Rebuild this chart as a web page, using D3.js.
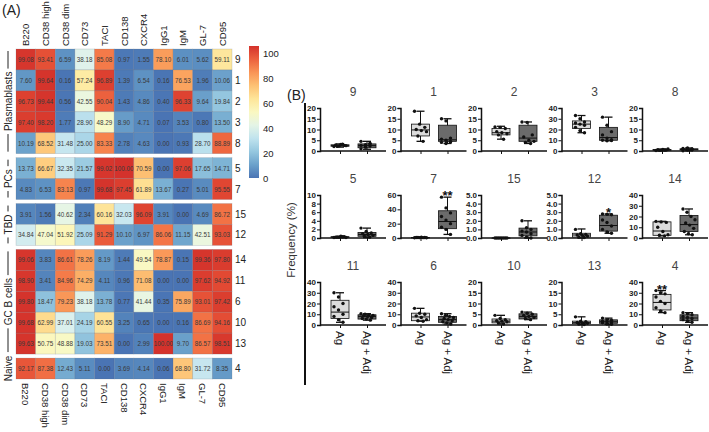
<!DOCTYPE html>
<html>
<head>
<meta charset="utf-8">
<script src="https://cdn.jsdelivr.net/npm/d3@7"></script>
<style>
    body { margin: 0; background: #fff; }
    svg { display: block; font-family: 'Liberation Sans', Arial, sans-serif; }
</style>
</head>
<body>
<div id="chart"></div>
<script>
// ---- panel A data ----
const markers = ['B220', 'CD38 high', 'CD38 dim', 'CD73', 'TACI', 'CD138', 'CXCR4', 'IgG1', 'IgM', 'GL-7', 'CD95'];
const clusters = ['9', '1', '2', '3', '8', '5', '7', '15', '12', '14', '11', '6', '10', '13', '4'];
const groupNames = ['Plasmablasts', 'PCs', 'TBD', 'GC B cells', 'Naive'];
const groupSizes = [5, 2, 2, 5, 1];
const heatValues = [
    [99.08, 93.41, 6.59, 38.18, 85.08, 0.97, 1.55, 78.10, 6.01, 5.62, 59.11],
    [7.60, 99.64, 0.16, 57.24, 96.89, 1.39, 6.54, 0.16, 76.53, 1.96, 10.06],
    [96.73, 99.44, 0.56, 42.55, 90.04, 1.43, 4.86, 0.40, 96.33, 9.64, 19.84],
    [97.40, 98.20, 1.77, 28.90, 48.29, 8.90, 4.71, 0.07, 3.53, 0.80, 13.50],
    [10.19, 68.52, 31.48, 25.00, 83.33, 2.78, 4.63, 0.00, 0.93, 28.70, 88.89],
    [13.73, 66.67, 32.35, 21.57, 99.02, 100.00, 70.59, 0.00, 97.06, 17.65, 14.71],
    [4.83, 6.53, 83.13, 0.97, 99.68, 97.45, 61.89, 13.67, 0.27, 5.01, 95.55],
    [3.91, 1.56, 40.62, 2.34, 60.16, 32.03, 96.09, 3.91, 0.00, 4.69, 86.72],
    [34.84, 47.04, 51.92, 25.09, 91.29, 10.10, 6.97, 86.06, 11.15, 42.51, 93.03],
    [99.06, 3.83, 86.61, 78.26, 8.19, 1.44, 49.54, 78.87, 0.15, 99.36, 97.80],
    [98.90, 3.41, 84.96, 74.29, 4.11, 0.96, 71.08, 0.00, 0.00, 97.62, 94.92],
    [99.80, 18.47, 79.23, 38.18, 13.78, 0.77, 41.44, 0.35, 75.89, 93.01, 97.42],
    [99.68, 62.99, 37.01, 24.19, 60.55, 3.25, 0.65, 0.00, 0.16, 86.69, 94.16],
    [99.63, 50.75, 48.88, 19.03, 73.51, 0.00, 2.99, 100.00, 9.70, 86.57, 98.51],
    [92.17, 87.38, 12.43, 5.11, 0.00, 3.69, 4.14, 0.06, 68.80, 31.72, 8.35]
];
const legendTicks = [0, 20, 40, 60, 80, 100];

// ---- panel B data ----
const panelClusters = ['9', '1', '2', '3', '8', '5', '7', '15', '12', '14', '11', '6', '10', '13', '4'];
const panelMax = [20, 20, 20, 40, 20, 10, 60, 5, 5, 40, 40, 40, 20, 20, 40];
const panelStep = [5, 5, 5, 10, 5, 2, 20, 1, 1, 10, 10, 10, 5, 5, 10];
const conditions = ['Ag', 'Ag + Adj'];
// [min, q1, median, q3, max]
const boxAg = [
    [1.8, 2.2, 2.5, 2.9, 3.3], [4.5, 7, 9.8, 12.5, 18.5], [5.5, 7.5, 8.5, 10.5, 11.5], [17, 21, 25, 28, 33], [0.1, 0.3, 0.5, 0.7, 0.9],
    [0.05, 0.1, 0.2, 0.3, 0.4], [0.2, 0.4, 0.6, 0.8, 1.0], [0, 0, 0, 0, 0], [0, 0.1, 0.35, 0.55, 1.05], [2, 2.5, 6.5, 15, 15.5],
    [2.5, 6, 12, 23, 30], [3.5, 4, 7.5, 11, 15.5], [0.5, 1, 1.8, 2.8, 4.5], [0.2, 0.6, 1.1, 1.8, 3.8], [11.5, 14, 21, 28.5, 32]
];
const boxAdj = [
    [0.8, 1.5, 2.5, 3.3, 4.5], [3.5, 4.5, 5.2, 12, 15], [3.5, 4.5, 6, 12, 13.5], [9.5, 10, 12.5, 22, 31.5], [0.1, 0.5, 0.8, 1.0, 1.4],
    [0.1, 0.4, 0.8, 1.3, 2.3], [5, 13, 23, 38, 57], [0, 0.25, 0.7, 1.15, 2.0], [0.55, 0.8, 1.45, 2.65, 2.8], [3, 6, 12.5, 21, 27],
    [4.5, 5.5, 8, 9.5, 10.5], [1, 2.5, 5, 8, 10.5], [2.5, 2.8, 4, 5.2, 6], [0.3, 0.8, 1.5, 2.4, 3.2], [2.5, 4, 6.5, 9.5, 11.5]
];
const dotsAg = [
    [2.1, 2.4, 2.6, 2.8, 3.0, 2.5, 2.2, 3.2],
    [18.5, 12.5, 11, 10, 9.5, 9, 7, 4.5],
    [11.2, 11, 10.5, 9, 8.5, 8, 7.5, 5.5],
    [33, 30, 27, 26, 25, 24, 22, 19, 17],
    [0.2, 0.4, 0.5, 0.6, 0.7, 0.9, 0.3, 0.5],
    [0.1, 0.2, 0.3, 0.2, 0.4, 0.1, 0.2, 0.3],
    [0.3, 0.5, 0.6, 0.8, 1.0, 0.4, 0.7, 0.5],
    [0, 0, 0, 0, 0, 0, 0, 0],
    [1.0, 0.5, 0.4, 0.35, 0.3, 0.2, 0.1, 0.05],
    [15.5, 15, 14.5, 10, 6, 3, 2.5, 2],
    [30, 26, 20, 17, 14, 10, 8, 5, 2.5],
    [15.5, 11, 10, 8.5, 7, 5, 4, 3.5],
    [4.5, 3, 2.5, 2, 1.8, 1.5, 1, 0.5],
    [3.8, 1.8, 1.5, 1.2, 1.0, 0.8, 0.5, 0.2],
    [32, 30, 29, 26, 22, 20, 16, 13, 11.5]
];
const dotsAdj = [
    [1.0, 1.8, 2.3, 2.6, 2.9, 3.2, 4.5, 2.0, 3.6],
    [15, 14, 6, 5.5, 5, 4.5, 4, 3.5, 4.2],
    [13.5, 13.3, 7.5, 6.5, 5, 4.5, 4, 3.5],
    [31.5, 24, 18, 15, 12, 10.5, 10, 9.5, 9.8],
    [0.1, 0.5, 0.7, 0.8, 0.9, 1.0, 1.2, 1.4, 0.6],
    [2.3, 1.5, 1.2, 1.0, 0.8, 0.6, 0.4, 0.2],
    [57, 42, 35, 30, 25, 20, 15, 12, 5],
    [2.0, 1.2, 1.0, 0.8, 0.7, 0.5, 0.3, 0.1, 0.0],
    [2.8, 2.75, 2.7, 2.1, 1.8, 1.4, 1.0, 0.7, 0.55],
    [27, 24, 20, 17, 14, 12, 9, 6, 4, 3],
    [10.5, 10, 9.5, 9, 8.5, 8, 7, 6, 5.5, 4.5],
    [10.5, 9, 8, 7, 6, 5, 4, 3, 2, 1],
    [6, 5.5, 5, 4.5, 4, 3.5, 3, 2.5],
    [3.2, 2.5, 2.2, 1.8, 1.5, 1.2, 1.0, 0.5, 0.3],
    [11.5, 10.5, 9.5, 8, 7, 6, 5, 4, 2.5]
];
// significance marks: [panel index, condition index, label]
const stars = [[6, 1, '**'], [8, 1, '*'], [14, 0, '**']];

const W = 709, H = 432;

const svg = d3.select('#chart')
    .append('svg')
    .attr('width', W)
    .attr('height', H);

svg.append('rect').attr('width', W).attr('height', H).style('fill', '#fff');

// ================= panel A =================
const hm = { left: 16, right: 232, top: 49, bottom: 379, gap: 4 };
const color = v => d3.interpolateRdYlBu(0.9 - 0.8 * v / 100);

const groupOf = [];
groupSizes.forEach((n, g) => { for (let k = 0; k < n; k++) groupOf.push(g); });

const x = d3.scaleBand().domain(markers).range([hm.left, hm.right]);
const yBand = d3.scaleBand().domain(clusters)
    .range([hm.top, hm.bottom - hm.gap * (groupNames.length - 1)]);
const rowY = i => yBand(clusters[i]) + groupOf[i] * hm.gap;

svg.append('text')
    .attr('x', 2).attr('y', 15)
    .style('font-size', '14px').style('fill', '#222')
    .text('(A)');

const cells = svg.append('g');
heatValues.forEach((row, i) => {
    row.forEach((v, j) => {
        cells.append('rect')
            .attr('x', x(markers[j]))
            .attr('y', rowY(i))
            .attr('width', x.bandwidth())
            .attr('height', yBand.bandwidth())
            .style('fill', color(v))
            .style('stroke', 'rgba(90,100,120,0.3)')
            .style('stroke-width', 0.6);
        cells.append('text')
            .attr('x', x(markers[j]) + x.bandwidth() / 2)
            .attr('y', rowY(i) + yBand.bandwidth() / 2)
            .attr('text-anchor', 'middle')
            .attr('dominant-baseline', 'central')
            .style('font-size', '6.3px')
            .style('fill', '#3a3a3a')
            .text(v.toFixed(2));
    });
    svg.append('text')
        .attr('x', hm.right + 3)
        .attr('y', rowY(i) + yBand.bandwidth() / 2)
        .attr('dominant-baseline', 'central')
        .style('font-size', '10px').style('fill', '#222')
        .text(clusters[i]);
});

// column labels top and bottom
markers.forEach(m => {
    const cx = x(m) + x.bandwidth() / 2;
    svg.append('text')
        .attr('transform', `translate(${cx},${hm.top - 3}) rotate(-90)`)
        .attr('dominant-baseline', 'central')
        .style('font-size', '9.5px').style('fill', '#222')
        .text(m);
    svg.append('text')
        .attr('transform', `translate(${cx},${hm.bottom + 4}) rotate(90)`)
        .attr('dominant-baseline', 'central')
        .style('font-size', '9.5px').style('fill', '#222')
        .text(m);
});

// group labels on the left
let start = 0;
groupNames.forEach((name, g) => {
    const y0 = rowY(start);
    const y1 = rowY(start + groupSizes[g] - 1) + yBand.bandwidth();
    const cy = (y0 + y1) / 2;
    const t = svg.append('text')
        .attr('transform', `translate(8,${cy}) rotate(-90)`)
        .attr('text-anchor', 'middle')
        .attr('dominant-baseline', 'central')
        .style('font-size', '10px').style('fill', '#222')
        .text(name);
    if (groupSizes[g] > 1) {
        const half = t.node().getComputedTextLength() / 2 + 3;
        svg.append('line')
            .attr('x1', 8).attr('x2', 8).attr('y1', y0 + 2).attr('y2', cy - half)
            .style('stroke', '#222').style('stroke-width', 1);
        svg.append('line')
            .attr('x1', 8).attr('x2', 8).attr('y1', cy + half).attr('y2', y1 - 2)
            .style('stroke', '#222').style('stroke-width', 1);
    }
    start += groupSizes[g];
});

// colour legend
const lg = { x: 249, w: 10 };
const ly = d3.scaleLinear().domain([0, 100]).range([178, 53]);
const grad = svg.append('defs').append('linearGradient')
    .attr('id', 'hmgrad').attr('x1', 0).attr('x2', 0).attr('y1', 1).attr('y2', 0);
d3.range(0, 101, 10).forEach(v => {
    grad.append('stop').attr('offset', `${v}%`).attr('stop-color', color(v));
});
svg.append('rect')
    .attr('x', lg.x).attr('y', ly(100) - 7)
    .attr('width', lg.w).attr('height', ly(0) - ly(100) + 7)
    .style('fill', 'url(#hmgrad)');
legendTicks.forEach(v => {
    svg.append('text')
        .attr('x', lg.x + lg.w + 4).attr('y', ly(v))
        .attr('dominant-baseline', 'central')
        .style('font-size', '9.5px').style('fill', '#222')
        .text(v);
});

// ================= panel B =================
const pb = { x0: 320, dx: 80.5, w: 66, h: 43, tops: [108, 195, 282] };

svg.append('text')
    .attr('x', 287).attr('y', 100)
    .style('font-size', '14px').style('fill', '#222')
    .text('(B)');
svg.append('line')
    .attr('x1', 305).attr('x2', 305).attr('y1', 103).attr('y2', 385)
    .style('stroke', '#111').style('stroke-width', 2);
svg.append('text')
    .attr('transform', 'translate(295,240) rotate(-90)')
    .attr('text-anchor', 'middle')
    .style('font-size', '11.5px').style('fill', '#333')
    .text('Frequency (%)');

const fills = ['#dcdcdc', '#6b6b6b'];

panelClusters.forEach((name, p) => {
    const col = p % 5, row = Math.floor(p / 5);
    const ox = pb.x0 + col * pb.dx, oy = pb.tops[row];
    const g = svg.append('g').attr('transform', `translate(${ox},${oy})`);

    const y = d3.scaleLinear().domain([0, panelMax[p]]).range([pb.h, 0]);
    const xc = d3.scalePoint().domain(conditions).range([20, 47]);

    g.append('text')
        .attr('x', pb.w / 2).attr('y', -12)
        .attr('text-anchor', 'middle')
        .style('font-size', '12px').style('fill', '#444')
        .text(name);

    const ya = g.append('g')
        .call(d3.axisLeft(y).tickValues(d3.range(0, panelMax[p] + panelStep[p] / 2, panelStep[p])).tickSize(3).tickPadding(1));
    const xa = g.append('g').attr('transform', `translate(0,${pb.h})`)
        .call(d3.axisBottom(xc).tickSize(3).tickFormat(''));
    xa.select('.domain').attr('d', `M0,0H${pb.w}`);
    [ya, xa].forEach(a => {
        a.select('.domain').style('stroke', '#111').style('stroke-width', 1.5);
        a.selectAll('.tick line').style('stroke', '#111').style('stroke-width', 1);
    });
    ya.selectAll('.tick text')
        .style('font-size', '8px').style('font-weight', 'bold')
        .style('fill', '#222').style('font-family', "'Liberation Sans', Arial, sans-serif");

    [boxAg[p], boxAdj[p]].forEach((b, k) => {
        const cx = xc(conditions[k]), bw = 18;
        g.append('line')
            .attr('x1', cx).attr('x2', cx).attr('y1', y(b[0])).attr('y2', y(b[4]))
            .style('stroke', '#111').style('stroke-width', 1);
        [b[0], b[4]].forEach(v => {
            g.append('line')
                .attr('x1', cx - 4).attr('x2', cx + 4).attr('y1', y(v)).attr('y2', y(v))
                .style('stroke', '#111').style('stroke-width', 1.3);
        });
        g.append('rect')
            .attr('x', cx - bw / 2).attr('y', y(b[3]))
            .attr('width', bw).attr('height', Math.max(0.5, y(b[1]) - y(b[3])))
            .style('fill', fills[k]).style('stroke', '#111').style('stroke-width', 0.8);
        g.append('line')
            .attr('x1', cx - bw / 2).attr('x2', cx + bw / 2).attr('y1', y(b[2])).attr('y2', y(b[2]))
            .style('stroke', '#111').style('stroke-width', 1);

        const pts = k === 0 ? dotsAg[p] : dotsAdj[p];
        const jit = d3.scalePoint().domain(d3.range(pts.length)).range([-6, 6]);
        pts.forEach((v, i) => {
            g.append('circle')
                .attr('cx', cx + jit((i * 3) % pts.length))
                .attr('cy', y(v))
                .attr('r', 1.7)
                .style('fill', '#111');
        });
    });

    stars.filter(s => s[0] === p).forEach(s => {
        const b = s[1] === 0 ? boxAg[p] : boxAdj[p];
        g.append('text')
            .attr('x', xc(conditions[s[1]])).attr('y', y(b[4]) + 3)
            .attr('text-anchor', 'middle')
            .style('font-size', '13px').style('font-weight', 'bold').style('fill', '#111')
            .text(s[2]);
    });

    if (row === 2) {
        conditions.forEach(c => {
            g.append('text')
                .attr('transform', `translate(${xc(c)},${pb.h + 6}) rotate(90)`)
                .attr('dominant-baseline', 'central')
                .style('font-size', '11.5px').style('fill', '#222')
                .text(c);
        });
    }
});
</script>
</body>
</html>
